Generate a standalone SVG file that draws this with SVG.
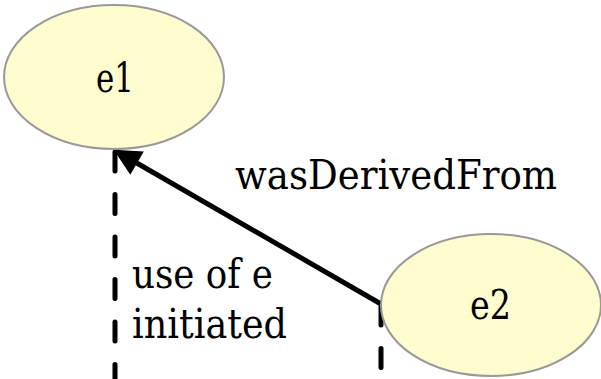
<svg xmlns="http://www.w3.org/2000/svg" width="601" height="379" viewBox="0 0 601 379">
<style>
.node{fill:#FFFCCF;stroke:#999999;stroke-width:2}
.lbl{font-family:'DejaVu Serif','Noto Serif',serif;font-size:41px;fill:#000}
.dash{stroke:#000;stroke-width:5;stroke-linecap:round;stroke-dasharray:19 23.5;fill:none}
.edge{stroke:#000;stroke-width:5;fill:none}
</style>
<defs>
<marker id="arr" viewBox="0 0 10 10" refX="9" refY="5" markerUnits="userSpaceOnUse" markerWidth="33" markerHeight="27" orient="auto">
<path d="M0,0 L10,5 L0,10 Z" fill="#000"/>
</marker>
</defs>
<rect width="601" height="379" fill="#fff"/>
<g id="connectors">
<line class="dash" x1="115" y1="152" x2="115" y2="390"/>
<line class="dash" x1="381" y1="306" x2="381" y2="390"/>
<line class="edge" x1="381" y1="304" x2="116" y2="151" marker-end="url(#arr)"/>
</g>
<g id="e1">
<ellipse class="node" cx="114" cy="77" rx="110" ry="72"/>
<text class="lbl" x="96" y="92" textLength="38" lengthAdjust="spacingAndGlyphs">e1</text>
</g>
<g id="e2">
<ellipse class="node" cx="491" cy="305" rx="110" ry="71"/>
<text class="lbl" x="470" y="319" textLength="41" lengthAdjust="spacingAndGlyphs">e2</text>
</g>
<g id="labels">
<text class="lbl" x="235" y="189" textLength="322" lengthAdjust="spacingAndGlyphs">wasDerivedFrom</text>
<text class="lbl" x="132" y="288" textLength="141" lengthAdjust="spacingAndGlyphs">use of e</text>
<text class="lbl" x="132" y="338" textLength="155" lengthAdjust="spacingAndGlyphs">initiated</text>
</g>
</svg>
